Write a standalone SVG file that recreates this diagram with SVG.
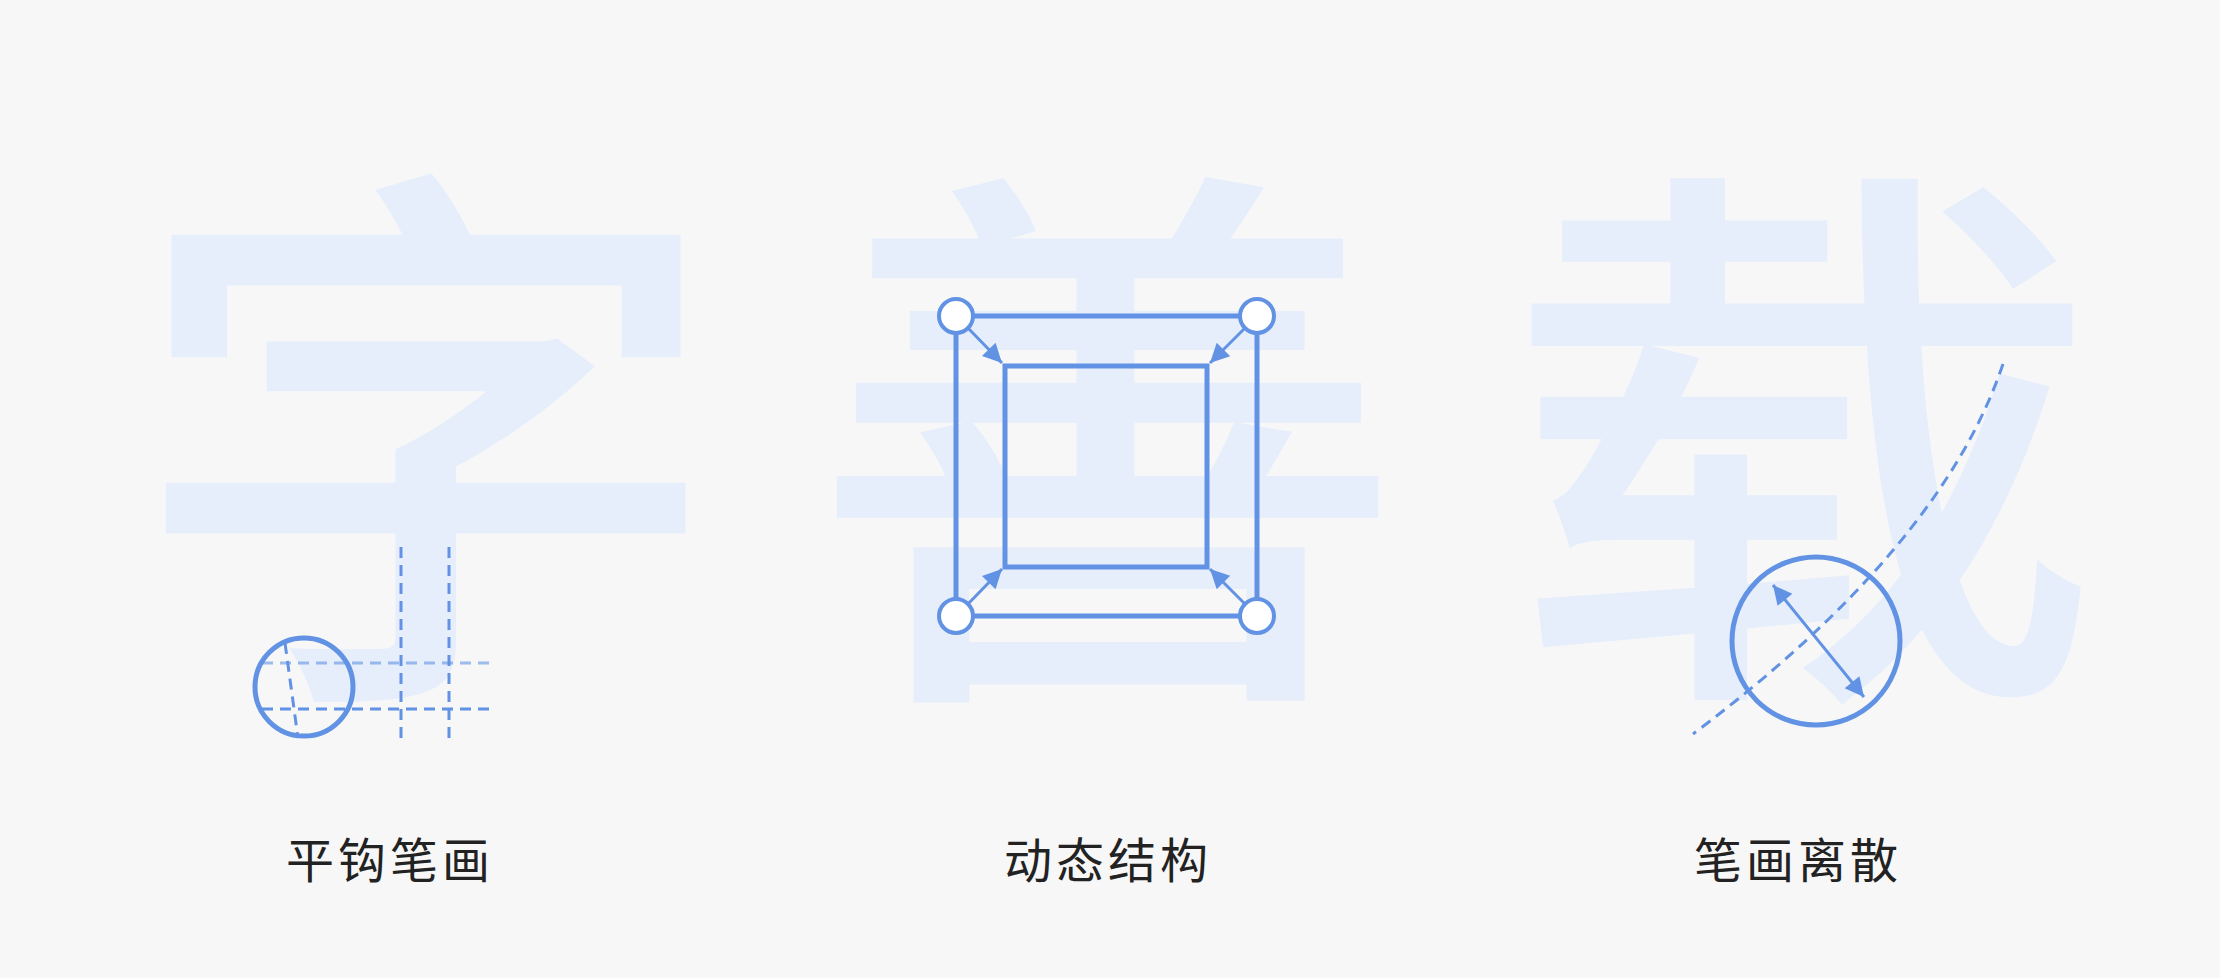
<svg xmlns="http://www.w3.org/2000/svg" width="2220" height="978" viewBox="0 0 2220 978">
  <style>
    .glyph { font-family: "Noto Sans CJK SC", "Noto Sans", sans-serif; font-weight: 500; font-size: 565px; fill: #e6eefc; text-anchor: middle; }
    .label { font-family: "Noto Sans CJK SC", "Noto Sans", sans-serif; font-size: 48px; letter-spacing: 4px; fill: #222222; text-anchor: middle; }
    .line { fill: none; stroke: #6192e4; stroke-width: 5; }
    .dash { fill: none; stroke: #6192e4; stroke-width: 3; stroke-dasharray: 11 7; }
    .node { fill: #ffffff; stroke: #6192e4; stroke-width: 4; }
    .arrow { fill: none; stroke: #6192e4; stroke-width: 3; }
  </style>
  <defs>
    <marker id="head" viewBox="0 0 10 10" refX="10" refY="5" markerWidth="22" markerHeight="19" markerUnits="userSpaceOnUse" orient="auto-start-reverse">
      <path d="M0,0 L10,5 L0,10 z" fill="#6192e4"/>
    </marker>
  </defs>
  <rect width="2220" height="978" fill="#f7f7f7"/>

  <g id="panel-hook">
    <text class="glyph" x="0" y="655" transform="translate(426 0) scale(1.06 1)">字</text>
    <line class="dash" x1="401" y1="547" x2="401" y2="740"/>
    <line class="dash" x1="449" y1="547" x2="449" y2="740"/>
    <line class="dash" x1="262" y1="663" x2="494" y2="663" opacity="0.6"/>
    <line class="dash" x1="262" y1="709" x2="494" y2="709"/>
    <line class="dash" x1="285" y1="643" x2="298" y2="738" stroke-width="2.5"/>
    <circle class="line" cx="304" cy="687" r="49"/>
    <text class="label" x="390" y="878">平钩笔画</text>
  </g>

  <g id="panel-structure">
    <text class="glyph" x="0" y="655" transform="translate(1107 0) scale(1.06 1)">善</text>
    <rect class="line" x="956" y="316" width="301" height="300"/>
    <rect class="line" x="1005" y="366" width="202" height="201"/>
    <text class="label" x="1108" y="878">动态结构</text>
  </g>

  <g id="panel-discrete">
    <text class="glyph" x="0" y="655" transform="translate(1801 0) scale(1.06 1)">载</text>
    <path class="dash" d="M2003,364 Q1941,548 1693,734"/>
    <circle class="line" cx="1816" cy="641" r="84" stroke-width="4.5"/>
    <text class="label" x="1798" y="878">笔画离散</text>
  </g>

  <g id="connectors">
    <line class="arrow" x1="967" y1="327" x2="1002" y2="363" marker-end="url(#head)"/>
    <line class="arrow" x1="1246" y1="327" x2="1210" y2="363" marker-end="url(#head)"/>
    <line class="arrow" x1="967" y1="605" x2="1002" y2="569" marker-end="url(#head)"/>
    <line class="arrow" x1="1246" y1="605" x2="1210" y2="569" marker-end="url(#head)"/>
    <line class="arrow" x1="1773" y1="585" x2="1864" y2="697" marker-start="url(#head)" marker-end="url(#head)"/>
  </g>

  <g id="corner-nodes">
    <circle class="node" cx="956" cy="316" r="17"/>
    <circle class="node" cx="1257" cy="316" r="17"/>
    <circle class="node" cx="956" cy="616" r="17"/>
    <circle class="node" cx="1257" cy="616" r="17"/>
  </g>
</svg>
